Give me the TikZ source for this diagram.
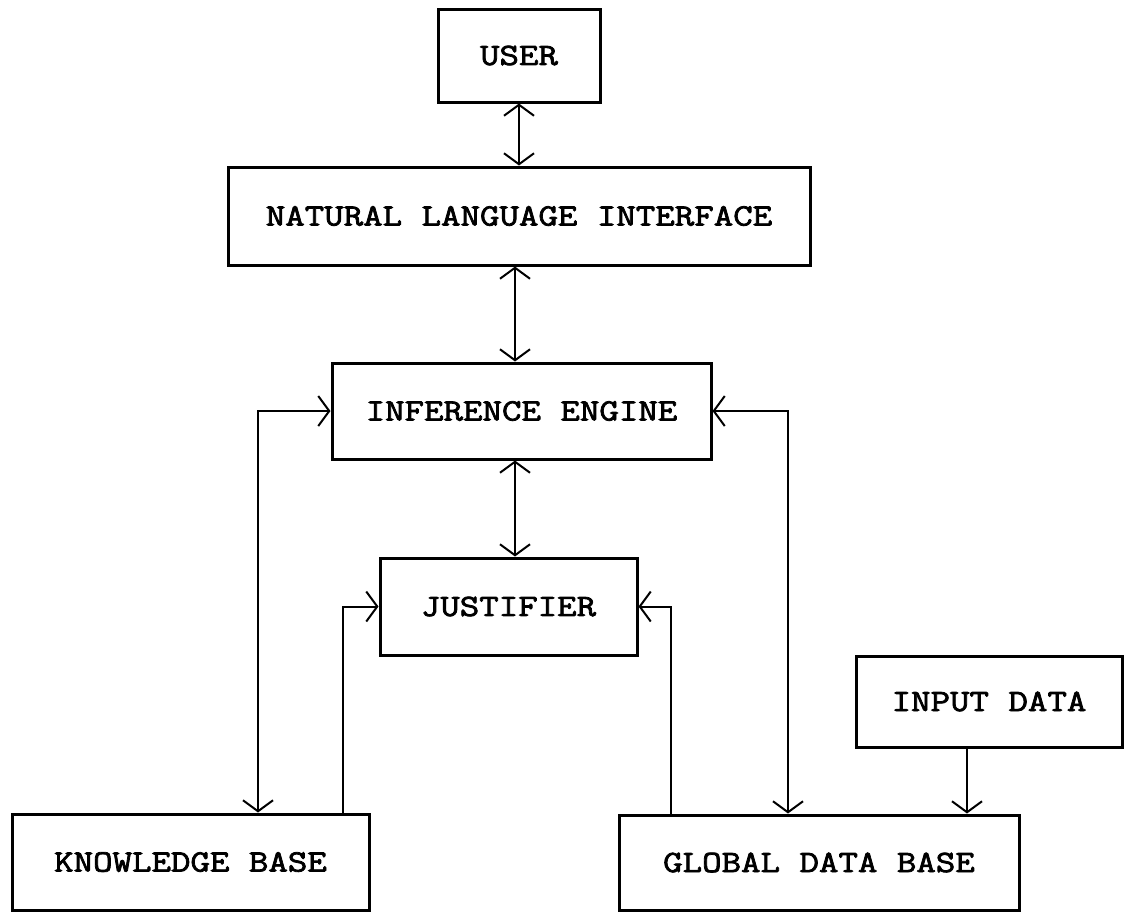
\documentclass[tikz,border=0pt]{standalone}
\usepackage{fontspec}
\usetikzlibrary{calc, arrows.meta}
\newfontfamily\boxfont[FakeStretch=1.22, FakeBold=2.5]{Latin Modern Mono}
\def\boxline{1.5pt}
\tikzset{
    block/.style = {draw=black, line width=\boxline, inner sep=0pt, align=center,
        font=\boxfont\fontsize{15.5}{18}\selectfont},
    link/.style = {line width=1pt}
}

\begin{document}
\begin{tikzpicture}[x=0.5pt, y=-0.5pt, >={Straight Barb[length=5.5pt, width=15pt]}]
        % fix the page size
        \useasboundingbox (0,0) rectangle (1124,912);

        % x positions of the long connectors
        \coordinate (xkb) at (258,0);
        \coordinate (xkbj) at (343,0);
        \coordinate (xgdbj) at (671,0);
        \coordinate (xgdb) at (788,0);
        \coordinate (xin) at (967,0);
        \coordinate (xmid) at (515,0);

        % draw the blocks
        \node[block, minimum width=81pt, minimum height=46.5pt] (user) at (519,55.5) {USER};
        \node[block, minimum width=291pt, minimum height=49pt] (nli) at (519,216) {NATURAL LANGUAGE INTERFACE};
        \node[block, minimum width=189.5pt, minimum height=48pt] (ie) at (521.5,411) {INFERENCE ENGINE};
        \node[block, minimum width=128.5pt, minimum height=48.5pt] (just) at (508.5,606.5) {JUSTIFIER};
        \node[block, minimum width=133pt, minimum height=45.5pt] (input) at (989,701.5) {INPUT DATA};
        \node[block, minimum width=178.5pt, minimum height=48pt] (kb) at (190.5,862) {KNOWLEDGE BASE};
        \node[block, minimum width=200pt, minimum height=47.5pt] (gdb) at (819,862.5) {GLOBAL DATA BASE};

        % vertical links in the middle
        \draw[link, <->] (user.south) -- (user.south |- nli.north);
        \draw[link, <->] (nli.south -| xmid) -- (ie.north -| xmid);
        \draw[link, <->] (ie.south -| xmid) -- (just.north -| xmid);

        % knowledge base
        \draw[link, <->] (ie.west) -| (kb.north -| xkb);
        \draw[link, ->] (kb.north -| xkbj) |- (just.west);

        % global data base
        \draw[link, ->] (gdb.north -| xgdbj) |- (just.east);
        \draw[link, <->] (ie.east) -| (gdb.north -| xgdb);

        % input data
        \draw[link, ->] (input.south -| xin) -- (gdb.north -| xin);
    \end{tikzpicture}
\end{document}
